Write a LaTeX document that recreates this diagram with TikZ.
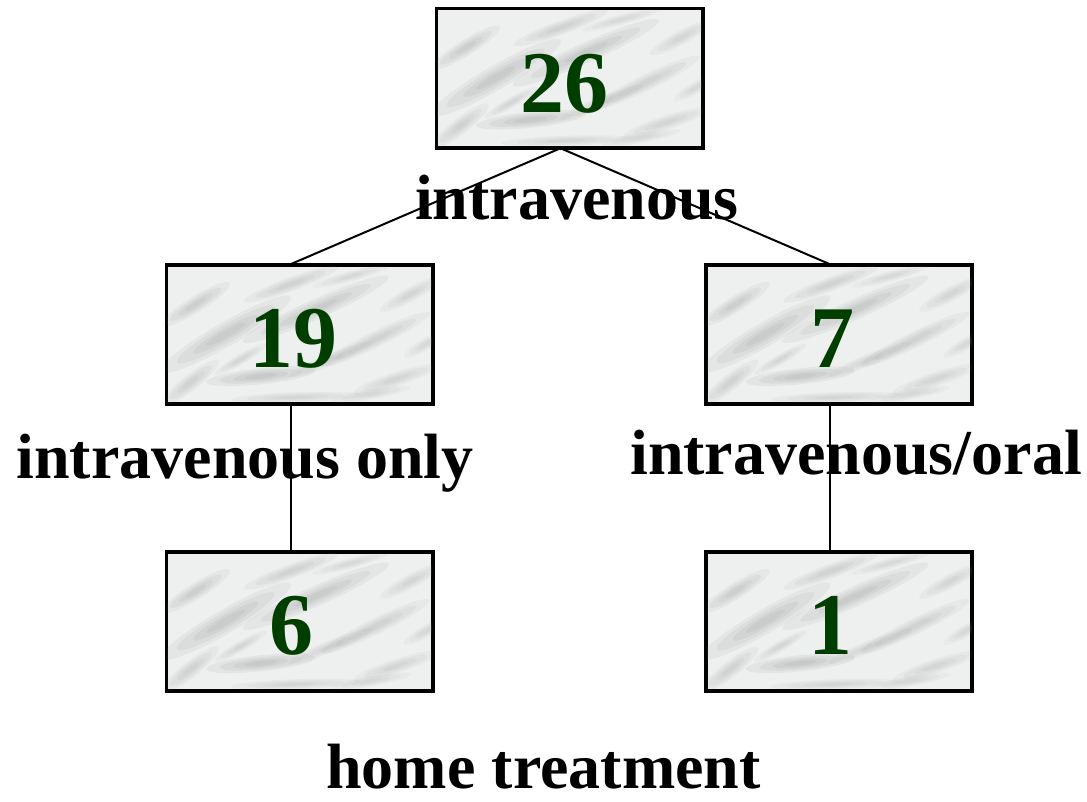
\documentclass[tikz,border=0pt]{standalone}
\usepackage{fontspec}
\setmainfont{Liberation Serif}
\definecolor{numgreen}{RGB}{0,62,0}
\definecolor{marblebase}{RGB}{238,239,239}
\definecolor{vein}{RGB}{140,142,142}
\newcommand{\marble}[1]{%
  \begin{scope}
    \clip (#1.north west) rectangle (#1.south east);
    \begin{scope}[shift={(#1.north west)}]
    \foreach \cx/\cy/\rx/\ry/\ang/\op in {
      60/70/75/12/30/.10, 30/40/40/8/32/.09, 150/45/80/10/24/.10,
      210/75/60/8/26/.08, 95/112/55/8/6/.11, 230/115/45/7/18/.07,
      125/20/50/7/20/.08, 165/95/45/6/22/.07, 245/30/35/7/28/.07,
      130/133/65/5/2/.07, 25/118/35/8/38/.08, 75/95/30/5/30/.07,
      205/130/40/5/10/.06, 260/80/25/6/30/.06, 185/12/40/5/15/.06}{
      \foreach \s in {1,0.75,0.5,0.3}{
        \fill[vein,opacity=\op,rotate around={\ang:(\cx,\cy)}]
          (\cx,\cy) ellipse [x radius=\s*\rx, y radius=\s*\ry];
      }
    }
    \end{scope}
  \end{scope}}
\tikzset{
  box/.style={draw=black, line width=2.5pt, fill=marblebase,
    minimum width=265pt, minimum height=138pt, inner sep=0pt},
  frame/.style={draw=black, line width=2.5pt},
  num/.style={text=numgreen, font=\fontsize{88}{90}\selectfont\bfseries, inner sep=0pt},
  lab/.style={font=\fontsize{64}{66}\selectfont\bfseries, inner sep=0pt, anchor=base},
  conn/.style={draw=black, line width=2pt}
}
\begin{document}
\begin{tikzpicture}[x=1pt,y=-1pt]
\useasboundingbox[fill=white] (0,0) rectangle (1087,801);
\node[box] (top) at (569.5,78) {};
\node[box] (ml) at (299.5,334.5) {};
\node[box] (mr) at (839,334.5) {};
\node[box] (bl) at (299.5,621.5) {};
\node[box] (br) at (839,621.5) {};
\marble{top}\marble{ml}\marble{mr}\marble{bl}\marble{br}
\foreach \b in {top,ml,mr,bl,br}{\draw[frame] (\b.north west) rectangle (\b.south east);}
\node[num] (ntop) at ([xshift=-5pt,yshift=-6pt]top.center) {26};
\node[num] (nml) at ([xshift=-6pt,yshift=-4pt]ml.center) {19};
\node[num] (nmr) at ([xshift=-7pt,yshift=-4pt]mr.center) {7};
\node[num] (nbl) at ([xshift=-8pt,yshift=-4pt]bl.center) {6};
\node[num] (nbr) at ([xshift=-9pt,yshift=-4pt]br.center) {1};
\node[lab] (liv) at (577,219) {intravenous};
\node[lab] (livo) at (245,478) {intravenous only};
\node[lab] (livor) at (856,474) {intravenous/oral};
\node[lab] (lhome) at (543.5,788) {home treatment};
\draw[conn] ([xshift=-9pt]top.south) -- ([xshift=-9pt]ml.north);
\draw[conn] ([xshift=-9pt]top.south) -- ([xshift=-9pt]mr.north);
\draw[conn] ([xshift=-9pt]ml.south) -- ([xshift=-9pt]bl.north);
\draw[conn] ([xshift=-9pt]mr.south) -- ([xshift=-9pt]br.north);
\end{tikzpicture}
\end{document}
